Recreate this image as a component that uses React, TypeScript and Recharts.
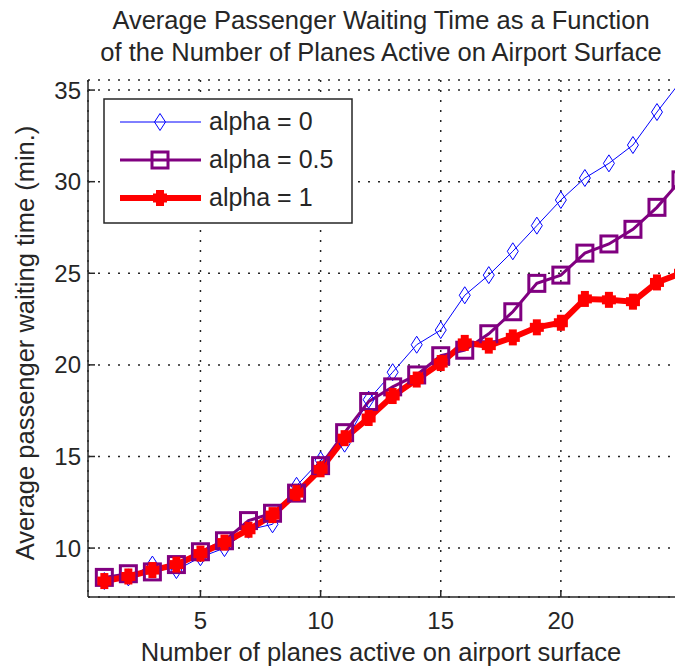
import React from 'react';
import { LineChart, Line, XAxis, YAxis, CartesianGrid, Legend } from 'recharts';

const planes = [1, 2, 3, 4, 5, 6, 7, 8, 9, 10, 11, 12, 13, 14, 15, 16, 17, 18, 19, 20, 21, 22, 23, 24, 25];
const alpha0 = [8.2, 8.4, 9.1, 8.8, 9.5, 10.0, 11.0, 11.3, 13.4, 14.8, 15.7, 18.1, 19.6, 21.1, 21.9, 23.8, 24.9, 26.2, 27.6, 29.0, 30.2, 31.0, 32.0, 33.8, 35.5];
const alpha05 = [8.4, 8.6, 8.7, 9.1, 9.8, 10.4, 11.5, 11.9, 13.0, 14.5, 16.3, 18.0, 18.8, 19.45, 20.5, 20.8, 21.7, 22.9, 24.45, 24.9, 26.1, 26.6, 27.4, 28.6, 30.1];
const alpha1 = [8.2, 8.45, 8.8, 9.1, 9.7, 10.3, 11.0, 11.8, 13.0, 14.3, 16.0, 17.1, 18.3, 19.2, 20.1, 21.2, 21.05, 21.5, 22.05, 22.3, 23.6, 23.55, 23.45, 24.5, 25.0];

const xTicks = [5, 10, 15, 20];
const yTicks = [10, 15, 20, 25, 30, 35];

const data = planes.map((n, i) => ({ n, a0: alpha0[i], a05: alpha05[i], a1: alpha1[i] }));

const FONT = '"Liberation Sans", Arial, Helvetica, sans-serif';
const INK = '#262626';
const BLUE = '#0000ff';
const PURPLE = '#800080';
const RED = '#ff0000';

const Diamond = ({ cx, cy }: any) => {
  if (cx == null || cy == null) return null;
  return <path d={`M${cx},${cy - 8.5}L${cx + 5.5},${cy}L${cx},${cy + 8.5}L${cx - 5.5},${cy}Z`} fill="none" stroke={BLUE} strokeWidth={1} />;
};

const Square = ({ cx, cy }: any) => {
  if (cx == null || cy == null) return null;
  return <rect x={cx - 8} y={cy - 8} width={16} height={16} fill="none" stroke={PURPLE} strokeWidth={3} />;
};

const Blob = ({ cx, cy }: any) => {
  if (cx == null || cy == null) return null;
  return (
    <g fill={RED}>
      <rect x={cx - 4} y={cy - 8} width={8} height={16} />
      <rect x={cx - 7} y={cy - 4.5} width={14} height={9} />
    </g>
  );
};

const renderLegend = () => (
  <svg width={250} height={126} style={{ display: 'block' }}>
    <rect x={1} y={1} width={248} height={124} fill="#fff" stroke={INK} strokeWidth={1.5} />
    <line x1={17} y1={24} x2={98} y2={24} stroke={BLUE} strokeWidth={1} />
    <Diamond cx={57} cy={24} />
    <text x={106} y={32} fontFamily={FONT} fontSize={25} fill={INK}>alpha = 0</text>
    <line x1={17} y1={62} x2={98} y2={62} stroke={PURPLE} strokeWidth={3} />
    <Square cx={57} cy={62} />
    <text x={106} y={70} fontFamily={FONT} fontSize={25} fill={INK}>alpha = 0.5</text>
    <line x1={17} y1={100} x2={98} y2={100} stroke={RED} strokeWidth={6} />
    <Blob cx={57} cy={100} />
    <text x={106} y={108} fontFamily={FONT} fontSize={25} fill={INK}>alpha = 1</text>
  </svg>
);

const tickStyle = { fontFamily: FONT, fontSize: 24, fill: INK };

export default function App() {
  return (
    <div style={{ position: 'absolute', left: 0, top: 0, width: 675, height: 669, overflow: 'hidden', background: '#fff' }}>
      <LineChart width={690} height={669} data={data} margin={{ top: 80, right: 9, bottom: 12, left: 8 }}>
        <CartesianGrid stroke={INK} strokeWidth={1.5} strokeDasharray="2 8" />
        <XAxis
          dataKey="n"
          type="number"
          domain={[0.32, 25]}
          ticks={xTicks}
          allowDataOverflow
          height={60}
          tickSize={-7}
          tickMargin={22}
          tick={tickStyle}
          axisLine={{ stroke: INK, strokeWidth: 1.5 }}
          tickLine={{ stroke: INK, strokeWidth: 1.5 }}
        />
        <XAxis
          xAxisId="top"
          orientation="top"
          dataKey="n"
          type="number"
          domain={[0.32, 25]}
          ticks={xTicks}
          allowDataOverflow
          height={0}
          tickSize={-7}
          tick={false}
          axisLine={{ stroke: INK, strokeWidth: 1.5 }}
          tickLine={{ stroke: INK, strokeWidth: 1.5 }}
        />
        <YAxis
          type="number"
          domain={[7.33, 35.55]}
          ticks={yTicks}
          allowDataOverflow
          width={80}
          tickSize={-7}
          tickMargin={14}
          tick={tickStyle}
          axisLine={{ stroke: INK, strokeWidth: 1.5 }}
          tickLine={{ stroke: INK, strokeWidth: 1.5 }}
        />
        <YAxis
          yAxisId="right"
          orientation="right"
          type="number"
          domain={[7.33, 35.55]}
          ticks={yTicks}
          allowDataOverflow
          width={0}
          tickSize={-7}
          tick={false}
          axisLine={{ stroke: INK, strokeWidth: 1.5 }}
          tickLine={{ stroke: INK, strokeWidth: 1.5 }}
        />
        <Line dataKey="a0" stroke={BLUE} strokeWidth={1} dot={<Diamond />} isAnimationActive={false} />
        <Line dataKey="a05" stroke={PURPLE} strokeWidth={3} dot={<Square />} isAnimationActive={false} />
        <Line dataKey="a1" stroke={RED} strokeWidth={6} dot={<Blob />} isAnimationActive={false} />
        <Legend
          layout="vertical"
          align="center"
          verticalAlign="middle"
          content={renderLegend}
          wrapperStyle={{ position: 'absolute', left: 103, top: 98, width: 250, height: 126 }}
        />
      </LineChart>
      <svg width={675} height={669} style={{ position: 'absolute', left: 0, top: 0, pointerEvents: 'none' }}>
        <text x={381} y={29} textAnchor="middle" fontFamily={FONT} fontSize={25.5} fill={INK}>
          Average Passenger Waiting Time as a Function
        </text>
        <text x={381} y={61} textAnchor="middle" fontFamily={FONT} fontSize={25.5} fill={INK}>
          of the Number of Planes Active on Airport Surface
        </text>
        <text x={381} y={661} textAnchor="middle" fontFamily={FONT} fontSize={25.5} fill={INK}>
          Number of planes active on airport surface
        </text>
        <text x={34} y={343} transform="rotate(-90 34 343)" textAnchor="middle" fontFamily={FONT} fontSize={25.5} fill={INK}>
          Average passenger waiting time (min.)
        </text>
      </svg>
    </div>
  );
}
